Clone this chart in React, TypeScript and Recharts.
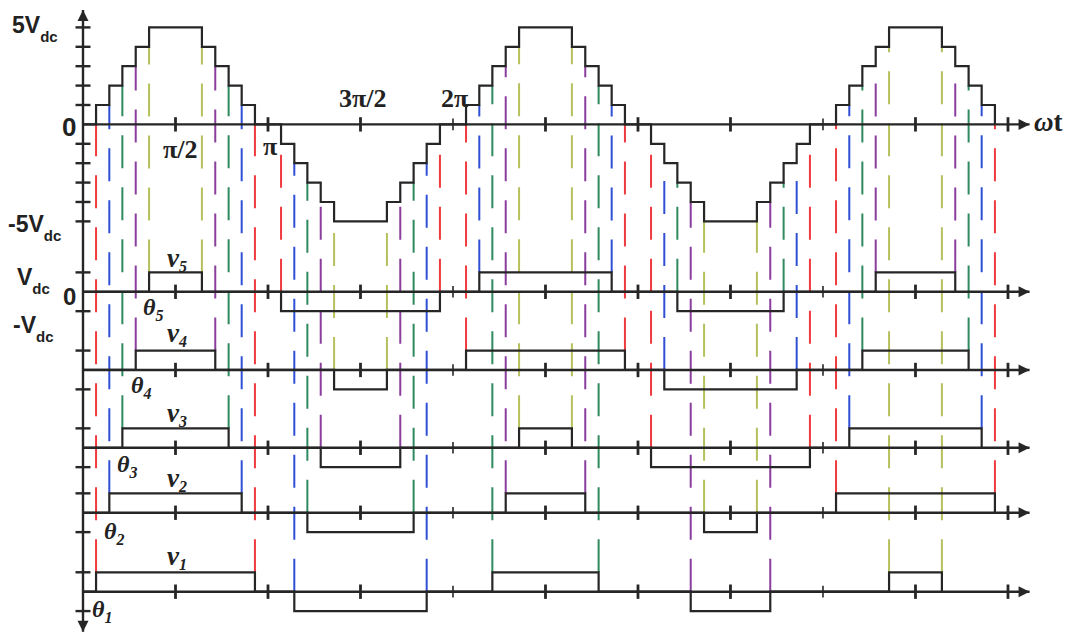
import React from "react";
import { ComposedChart, Line, XAxis, YAxis, ReferenceLine } from "recharts";

// switching angles θ1..θ5, degrees of ωt
const THETA = [12.7, 25.6, 38.3, 51.3, 64.3];
const THETA_COLORS = ["#ef3a3e", "#2f50d4", "#2f8a5f", "#8b3d9d", "#b6c05c"];

// angle index (1-based) used by each cell in each half cycle
const V1_ORDER = [1, 2, 3, 4, 5];
const V2_ORDER = [2, 3, 4, 5, 1];
const V3_ORDER = [3, 4, 5, 1, 2];
const V4_ORDER = [4, 5, 1, 2, 3];
const V5_ORDER = [5, 1, 2, 3, 4];
const HALF_SIGN = [1, -1, 1, -1, 1];

const X_TICKS = [90, 180, 270, 360, 450, 540, 630, 720, 810, 900];
const THIN_TICKS = [360, 720];
const MAIN_LEVELS = [-5, -4, -3, -2, -1, 1, 2, 3, 4, 5];

// layout
const W = 1066;
const H = 635;
const X_DOMAIN: [number, number] = [-80.76, 922.4];
const Y_DOMAIN: [number, number] = [-26.22, 6];
const AXIS_END = 921;
const INK = "#262626";

// baseline of each cell row (Vdc units, main axis = 0)
const ROWS = [
  { order: V5_ORDER, base: -8.63 },
  { order: V4_ORDER, base: -12.66 },
  { order: V3_ORDER, base: -16.67 },
  { order: V2_ORDER, base: -20.02 },
  { order: V1_ORDER, base: -24.09 },
];

function stairPoints() {
  const pts = [{ x: 0, y: 0 }];
  HALF_SIGN.forEach((s, k) => {
    const t0 = 180 * k;
    const t1 = 180 * (k + 1);
    THETA.forEach((th, i) => {
      pts.push({ x: t0 + th, y: s * i }, { x: t0 + th, y: s * (i + 1) });
    });
    [...THETA].reverse().forEach((th, r) => {
      const i = THETA.length - r;
      pts.push({ x: t1 - th, y: s * i }, { x: t1 - th, y: s * (i - 1) });
    });
  });
  return pts;
}

function cellPoints(order: number[], base: number) {
  const pts = [{ x: 0, y: base }];
  order.forEach((j, k) => {
    const s = HALF_SIGN[k];
    const th = THETA[j - 1];
    const a = 180 * k + th;
    const b = 180 * (k + 1) - th;
    pts.push({ x: a, y: base }, { x: a, y: base + s }, { x: b, y: base + s }, { x: b, y: base });
  });
  return pts;
}

// dashed guide from the staircase step down to the cell that switches there
const guides: { x: number; from: number; to: number; color: string }[] = [];
ROWS.forEach((row) =>
  row.order.forEach((j, k) => {
    const s = HALF_SIGN[k];
    const th = THETA[j - 1];
    const stairY = s > 0 ? j - 1 : -j;
    const cellY = row.base + (s > 0 ? 1 : 0);
    [180 * k + th, 180 * (k + 1) - th].forEach((x) =>
      guides.push({ x, from: cellY, to: stairY, color: THETA_COLORS[j - 1] })
    );
  })
);

function head(tx: number, ty: number, fx: number, fy: number) {
  const dx = tx - fx;
  const dy = ty - fy;
  const len = Math.hypot(dx, dy) || 1;
  const ux = dx / len;
  const uy = dy / len;
  const L = 11;
  const hw = 5.5;
  const bx = tx - ux * L;
  const by = ty - uy * L;
  return `${tx},${ty} ${bx - uy * hw},${by + ux * hw} ${bx + uy * hw},${by - ux * hw}`;
}

function ArrowLine(props: any) {
  const { x1, y1, x2, y2, stroke, strokeWidth, both } = props;
  if ([x1, y1, x2, y2].some((v) => v == null || isNaN(v))) return null;
  return (
    <g>
      <line x1={x1} y1={y1} x2={x2} y2={y2} stroke={stroke} strokeWidth={strokeWidth} />
      <polygon points={head(x2, y2, x1, y1)} fill={stroke} />
      {both && <polygon points={head(x1, y1, x2, y2)} fill={stroke} />}
    </g>
  );
}

const SANS = "Liberation Sans, Arial, sans-serif";
const SERIF = "Liberation Serif, Times New Roman, serif";

function Labels() {
  const sans = { fontFamily: SANS, fontWeight: 700, fill: "#222" } as const;
  const serif = { fontFamily: SERIF, fontWeight: 700, fill: "#222" } as const;
  const vLabels = [
    { n: "5", x: 167, y: 267 },
    { n: "4", x: 167, y: 342 },
    { n: "3", x: 167, y: 422 },
    { n: "2", x: 167, y: 487 },
    { n: "1", x: 167, y: 565 },
  ];
  const tLabels = [
    { n: "5", x: 143, y: 315 },
    { n: "4", x: 131, y: 393 },
    { n: "3", x: 117, y: 472 },
    { n: "2", x: 104, y: 539 },
    { n: "1", x: 92, y: 617 },
  ];
  return (
    <svg width={W} height={H} style={{ position: "absolute", left: 0, top: 0, pointerEvents: "none" }}>
      <text x={12} y={33} fontSize={23} {...sans}>
        5V<tspan fontSize={15} dy={9}>dc</tspan>
      </text>
      <text x={62} y={136} fontSize={26} {...sans}>0</text>
      <text x={8} y={232} fontSize={23} {...sans}>
        -5V<tspan fontSize={15} dy={9}>dc</tspan>
      </text>
      <text x={17} y={285} fontSize={23} {...sans}>
        V<tspan fontSize={15} dy={9}>dc</tspan>
      </text>
      <text x={63} y={305} fontSize={24} {...sans}>0</text>
      <text x={13} y={333} fontSize={23} {...sans}>
        -V<tspan fontSize={15} dy={9}>dc</tspan>
      </text>

      <text x={163} y={158} fontSize={26} {...serif}>π/2</text>
      <text x={263} y={155} fontSize={26} {...serif}>π</text>
      <text x={339} y={107} fontSize={26} {...serif}>3π/2</text>
      <text x={441} y={107} fontSize={26} {...serif}>2π</text>
      <text x={1034} y={131} fontSize={27} {...serif}>
        <tspan fontStyle="italic">ω</tspan>t
      </text>

      {vLabels.map((l) => (
        <text key={"v" + l.n} x={l.x} y={l.y} fontSize={27} fontStyle="italic" {...serif}>
          v<tspan fontSize={16} dy={5}>{l.n}</tspan>
        </text>
      ))}
      {tLabels.map((l) => (
        <text key={"t" + l.n} x={l.x} y={l.y} fontSize={24} fontStyle="italic" {...serif}>
          θ<tspan fontSize={16} dy={6}>{l.n}</tspan>
        </text>
      ))}
    </svg>
  );
}

export default function App() {
  const stair = stairPoints();
  const bases = [0, ...ROWS.map((r) => r.base)];
  const yTicks = [...MAIN_LEVELS, ...ROWS.flatMap((r) => [r.base + 1, r.base - 1])];

  return (
    <div style={{ position: "absolute", left: 0, top: 0, width: W, height: H, background: "#fff" }}>
      <ComposedChart width={W} height={H} margin={{ top: 8, right: 35, bottom: 2, left: 0 }}>
        <XAxis type="number" dataKey="x" domain={X_DOMAIN} allowDataOverflow hide />
        <YAxis type="number" dataKey="y" domain={Y_DOMAIN} allowDataOverflow hide />

        {guides.map((g, i) => (
          <ReferenceLine
            key={"g" + i}
            segment={[{ x: g.x, y: g.from }, { x: g.x, y: g.to }]}
            stroke={g.color}
            strokeWidth={2}
            strokeDasharray="33 19"
            ifOverflow="visible"
          />
        ))}

        {bases.map((b, i) => (
          <ReferenceLine
            key={"ax" + i}
            segment={[{ x: 0, y: b }, { x: AXIS_END, y: b }]}
            stroke={INK}
            strokeWidth={2.4}
            ifOverflow="visible"
            shape={(p: any) => <ArrowLine {...p} />}
          />
        ))}
        <ReferenceLine
          segment={[{ x: 0, y: -26.15 }, { x: 0, y: 5.9 }]}
          stroke={INK}
          strokeWidth={2.4}
          ifOverflow="visible"
          shape={(p: any) => <ArrowLine {...p} both />}
        />

        {bases.flatMap((b, i) =>
          X_TICKS.map((t) => {
            const thin = THIN_TICKS.includes(t);
            const h = thin ? 0.3 : 0.37;
            return (
              <ReferenceLine
                key={"xt" + i + "-" + t}
                segment={[{ x: t, y: b - h }, { x: t, y: b + h }]}
                stroke={INK}
                strokeWidth={thin ? 1.6 : 2.8}
                ifOverflow="visible"
              />
            );
          })
        )}
        {yTicks.map((y, i) => (
          <ReferenceLine
            key={"yt" + i}
            segment={[{ x: -7.3, y }, { x: 7.3, y }]}
            stroke={INK}
            strokeWidth={2.4}
            ifOverflow="visible"
          />
        ))}

        <Line
          data={stair}
          dataKey="y"
          type="linear"
          stroke={INK}
          strokeWidth={2.2}
          dot={false}
          activeDot={false}
          isAnimationActive={false}
        />
        {ROWS.map((r, i) => (
          <Line
            key={"c" + i}
            data={cellPoints(r.order, r.base)}
            dataKey="y"
            type="linear"
            stroke={INK}
            strokeWidth={2.2}
            dot={false}
            activeDot={false}
            isAnimationActive={false}
          />
        ))}
      </ComposedChart>
      <Labels />
    </div>
  );
}
